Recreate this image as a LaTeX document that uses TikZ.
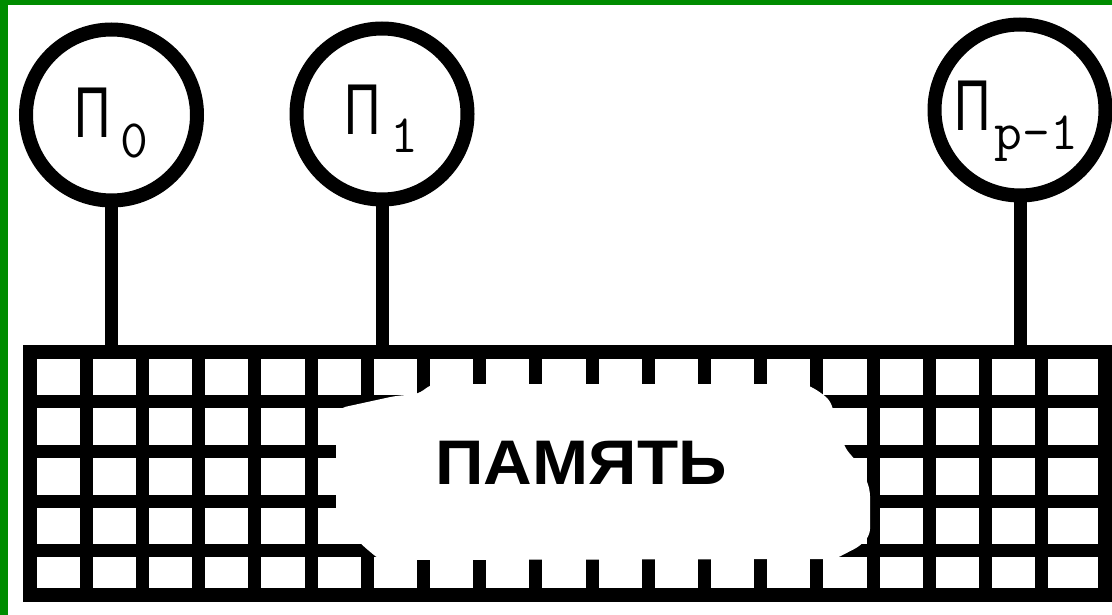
\documentclass[tikz,border=0pt]{standalone}
\usepackage{graphicx}
\usepackage{fontspec}
\newfontfamily\lsans{Liberation Sans}
\definecolor{slidegreen}{RGB}{0,140,0}
\newcommand\pisym{{\lsans\fontsize{72}{72}\selectfont\scalebox{0.7}[1]{П}}}
\newcommand\subfnt{\ttfamily\fontsize{54}{54}\selectfont}
\begin{document}
\begin{tikzpicture}[x=1pt,y=-1pt,
  cpu/.style={circle,draw=black,line width=14pt,minimum size=171pt,inner sep=0pt},
  wire/.style={line width=13pt,black},
  gridline/.style={line width=13pt,black},
  lab/.style={inner sep=0pt,anchor=base west}]
\useasboundingbox (0,0) rectangle (1112,615);
\fill[white] (-10,-10) rectangle (1122,625);
\fill[slidegreen] (-10,-10) rectangle (1122,5);
\fill[slidegreen] (-10,-10) rectangle (8,625);
% memory grid
\foreach \k in {1,...,18} \draw[gridline] ({30+56.2*\k},352) -- ({30+56.2*\k},595);
\foreach \yy in {401.5,451,501,550} \draw[gridline] (30,\yy) -- (1105,\yy);
\node[draw,line width=14pt,minimum width=1075pt,minimum height=243pt,inner sep=0pt] (mem) at (567.5,473.5) {};
% white blob
\fill[white,rounded corners=6pt] (336,420) -- (340,408) -- (395,396) -- (418,394) -- (432,384)
  -- (805,384) -- (817,390) -- (830,400) -- (845,448) -- (862,468) -- (870,490) -- (870,535)
  -- (860,546) -- (835,559) -- (380,560) -- (362,545) -- (336,515) -- cycle;
\node[inner sep=0pt] (memlabel) at (581,462.5) {\lsans\bfseries\fontsize{63}{63}\selectfont\scalebox{1.07}[1]{ПАМЯТЬ}};
% processors
\node[cpu] (p0) at (111.5,115) {};
\node[cpu] (p1) at (382,114) {};
\node[cpu] (pp) at (1020,110) {};
\draw[wire] (p0.south) -- (p0.south |- mem.north);
\draw[wire] (p1.south) -- (p1.south |- mem.north);
\draw[wire] (pp.south) -- (pp.south |- mem.north);
\node[lab] (l0) at (74,138) {\pisym\hspace{10pt}\raisebox{-20pt}{\subfnt 0}};
\node[lab] (l1) at (344,135) {\pisym\hspace{10pt}\raisebox{-18pt}{\subfnt 1}};
\node[lab] (lp) at (954,131) {\pisym\hspace{4pt}\raisebox{-19pt}{\subfnt p-1}};
\end{tikzpicture}
\end{document}
